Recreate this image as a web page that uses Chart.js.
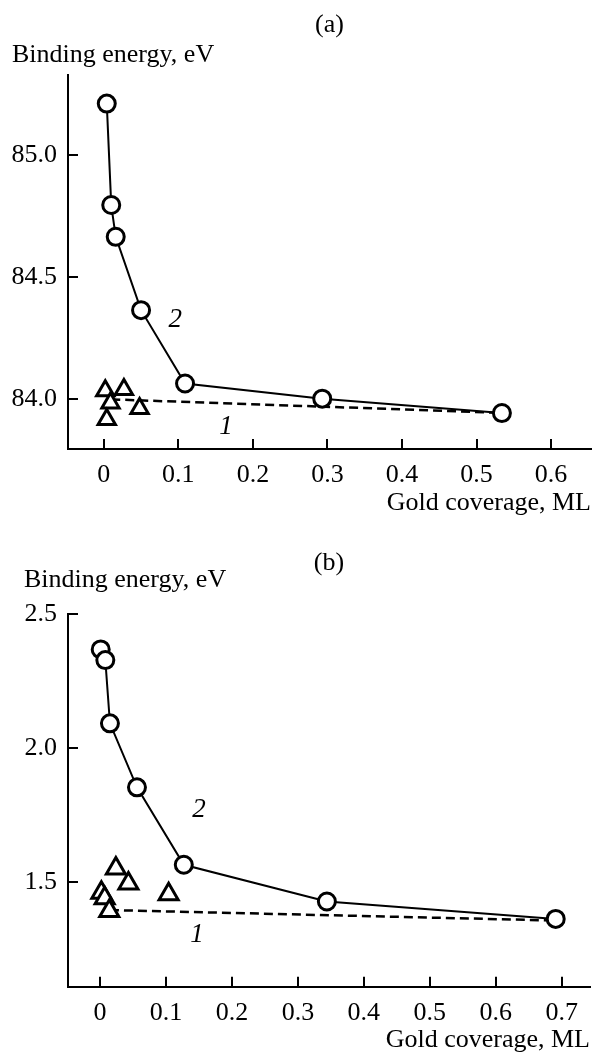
<!DOCTYPE html>
<html><head><meta charset="utf-8">
<script src="https://cdn.jsdelivr.net/npm/chart.js@4/dist/chart.umd.min.js"></script>
<style>
html,body{margin:0;padding:0;background:#fff;overflow:hidden;width:604px;height:1053px}
.wrap{position:absolute;left:0;width:604px}
#wa{top:0;height:526px}
#wb{top:526px;height:540px}
canvas{display:block}
</style></head><body>
<div class="wrap" id="wa"><canvas id="ca" width="604" height="526"></canvas></div>
<div class="wrap" id="wb"><canvas id="cb" width="604" height="540"></canvas></div>
<script>
// ---- Panel (a) data ----
const coverageA2 = [0.004, 0.010, 0.016, 0.050, 0.109, 0.293, 0.534];
const energyA2   = [85.21, 84.795, 84.665, 84.365, 84.065, 84.003, 83.944];
const coverageA1 = [0.002, 0.027, 0.009, 0.048, 0.004];
const energyA1   = [84.035, 84.040, 83.985, 83.963, 83.918];
const fitCoverageA1 = [0.010, 0.534];
const fitEnergyA1   = [84.000, 83.945];
const xTicksA = [0, 0.1, 0.2, 0.3, 0.4, 0.5, 0.6];
const yTicksA = [84.0, 84.5, 85.0];

// ---- Panel (b) data ----
const coverageB2 = [0.001, 0.008, 0.015, 0.056, 0.127, 0.344, 0.691];
const energyB2   = [2.369, 2.329, 2.093, 1.854, 1.565, 1.428, 1.363];
const coverageB1 = [0.002, 0.007, 0.014, 0.024, 0.043, 0.104];
const energyB1   = [1.461, 1.440, 1.393, 1.551, 1.495, 1.455];
const fitCoverageB1 = [0.015, 0.690];
const fitEnergyB1   = [1.396, 1.357];
const xTicksB = [0, 0.1, 0.2, 0.3, 0.4, 0.5, 0.6, 0.7];
const yTicksB = [1.5, 2.0, 2.5];

const FAMILY = '"Liberation Serif", "Times New Roman", serif';
const FS = 26;
const zip = (xs, ys) => xs.map((x, i) => ({x: x, y: ys[i]}));

const textPlugin = {
  id: 'texts',
  afterDraw(chart, args, opts) {
    const ctx = chart.ctx, ca = chart.chartArea;
    ctx.save();
    ctx.fillStyle = '#000';
    ctx.textBaseline = 'middle';
    ctx.font = FS + 'px ' + FAMILY;
    ctx.textAlign = 'center';
    ctx.fillText(opts.panel, (ca.left + ca.right) / 2, opts.panelY);
    ctx.textAlign = 'left';
    ctx.fillText('Binding energy, eV', opts.yTitleX, opts.yTitleY);
    ctx.font = 'italic ' + (FS + 1) + 'px ' + FAMILY;
    ctx.textAlign = 'center';
    opts.curveLabels.forEach(l => {
      ctx.fillText(l.text, chart.scales.x.getPixelForValue(l.x), chart.scales.y.getPixelForValue(l.y));
    });
    ctx.restore();
  }
};

function makeChart(id, c) {
  const font = {family: FAMILY, size: FS, lineHeight: 1};
  return new Chart(document.getElementById(id), {
    type: 'scatter',
    data: {datasets: [
      {label: '2', data: zip(c.x2, c.y2), showLine: true, borderColor: '#000', borderWidth: 2,
       pointStyle: 'circle', pointRadius: 8.5, pointBorderWidth: 3,
       pointBackgroundColor: '#fff', pointBorderColor: '#000'},
      {label: '1', data: zip(c.x1, c.y1), showLine: false,
       pointStyle: 'triangle', pointRadius: c.triR, pointBorderWidth: 3,
       pointBackgroundColor: '#fff', pointBorderColor: '#000'},
      {label: 'fit', data: zip(c.fx, c.fy), showLine: true, borderColor: '#000', borderWidth: 2.5,
       borderDash: [9, 5], pointRadius: 0}
    ]},
    options: {
      responsive: false, animation: false, devicePixelRatio: 1,
      layout: {padding: {top: c.padTop, right: 1, left: 0, bottom: 0}},
      plugins: {
        legend: {display: false}, tooltip: {enabled: false},
        texts: {panel: c.panel, panelY: c.panelY, yTitleX: c.yTitleX, yTitleY: c.yTitleY, curveLabels: c.curveLabels}
      },
      scales: {
        x: {
          type: 'linear', position: 'bottom', min: c.xmin, max: c.xmax,
          afterBuildTicks: s => { s.ticks = c.xt.map(v => ({value: v})); },
          afterFit: s => { s.height = c.xh; s.paddingLeft = 0; s.paddingRight = 0; },
          ticks: {font: font, color: '#000', padding: 23, maxRotation: 0, autoSkip: false,
                  callback: v => v === 0 ? '0' : v.toFixed(1)},
          grid: {drawOnChartArea: false, drawTicks: true, tickLength: -10, color: '#000', lineWidth: 2},
          border: {display: true, color: '#000', width: 2},
          title: {display: true, text: 'Gold coverage, ML', align: 'end', font: font, color: '#000',
                  padding: {top: 0, bottom: c.xTitlePad}}
        },
        y: {
          type: 'linear', position: 'left', min: c.ymin, max: c.ymax,
          afterBuildTicks: s => { s.ticks = c.yt.map(v => ({value: v})); },
          afterFit: s => { s.width = 68; s.paddingTop = 0; s.paddingBottom = 0; },
          ticks: {font: font, color: '#000', padding: 21, callback: v => v.toFixed(1)},
          grid: {drawOnChartArea: false, drawTicks: true, tickLength: -10, color: '#000', lineWidth: 2},
          border: {display: true, color: '#000', width: 2}
        }
      }
    },
    plugins: [textPlugin]
  });
}

makeChart('ca', {
  x2: coverageA2, y2: energyA2, x1: coverageA1, y1: energyA1, fx: fitCoverageA1, fy: fitEnergyA1,
  xt: xTicksA, yt: yTicksA, xmin: -0.048, xmax: 0.6535, ymin: 83.797, ymax: 85.327,
  triR: 10, padTop: 75, xh: 77, xTitlePad: 10,
  panel: '(a)', panelY: 25, yTitleX: 12, yTitleY: 55,
  curveLabels: [{text: '2', x: 0.096, y: 84.325}, {text: '1', x: 0.164, y: 83.887}]
});

makeChart('cb', {
  x2: coverageB2, y2: energyB2, x1: coverageB1, y1: energyB1, fx: fitCoverageB1, fy: fitEnergyB1,
  xt: xTicksB, yt: yTicksB, xmin: -0.0486, xmax: 0.743, ymin: 1.11, ymax: 2.5,
  triR: 11, padTop: 88.3, xh: 79.3, xTitlePad: 13,
  panel: '(b)', panelY: 37, yTitleX: 24, yTitleY: 54,
  curveLabels: [{text: '2', x: 0.150, y: 1.770}, {text: '1', x: 0.147, y: 1.303}]
});
</script>
</body></html>
